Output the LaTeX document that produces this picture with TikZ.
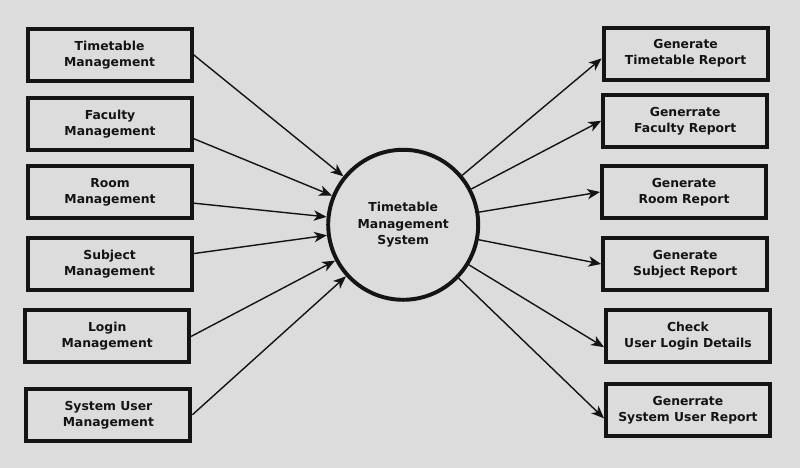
\documentclass[tikz,border=0pt]{standalone}
\usepackage{fontspec}
\setmainfont{DejaVu Sans}
\usetikzlibrary{arrows.meta}
\definecolor{paper}{RGB}{220,220,220}
\definecolor{ink}{RGB}{20,20,20}
\tikzset{
  box/.style={draw=ink, line width=2.8pt, fill=paper, text=ink, align=center,
    minimum width=4.1cm, minimum height=1.3cm, inner sep=2pt,
    font=\bfseries\fontsize{8.8}{11.4}\selectfont},
  proc/.style={draw=ink, line width=2.8pt, circle, minimum size=3.75cm, align=center,
    text=ink, font=\bfseries\fontsize{8.8}{11.8}\selectfont},
  flow/.style={draw=ink, line width=1pt, -{Stealth[length=3.2mm,width=2.6mm,inset=0.9mm]}}
}
\begin{document}
\begin{tikzpicture}
        \fill[paper] (0,0) rectangle (20,11.7);
        \useasboundingbox (0,0) rectangle (20,11.7);
        % central process
        \node[proc] at (10.08,6.08) (sys) {Timetable\\Management\\System};
        % inputs
        \node[box] at (2.74,10.33) (ttm) {Timetable\\Management};
        \node[box] at (2.75,8.60)  (fac) {Faculty\\Management};
        \node[box] at (2.75,6.89)  (room) {Room\\Management};
        \node[box] at (2.74,5.09)  (subj) {Subject\\Management};
        \node[box] at (2.68,3.29)  (login) {Login\\Management};
        \node[box] at (2.71,1.33)  (user) {System User\\Management};
        % outputs
        \node[box] at (17.14,10.36) (rtt) {Generate\\Timetable Report};
        \node[box] at (17.13,8.68)  (rfac) {Generrate\\Faculty Report};
        \node[box] at (17.10,6.90)  (rroom) {Generate\\Room Report};
        \node[box] at (17.13,5.10)  (rsubj) {Generate\\Subject Report};
        \node[box] at (17.20,3.29)  (rlogin) {Check\\User Login Details};
        \node[box] at (17.20,1.44)  (ruser) {Generrate\\System User Report};
        % arrows in
        \draw[flow] (ttm.east) -- (sys);
        \draw[flow] ([yshift=-0.37cm]fac.east) -- (sys);
        \draw[flow] ([yshift=-0.27cm]room.east) -- (sys);
        \draw[flow] ([yshift=0.27cm]subj.east) -- (sys);
        \draw[flow] (login.east) -- (sys);
        \draw[flow] (user.east) -- (sys);
        % arrows out
        \draw[flow] (sys) -- ([yshift=-0.12cm]rtt.west);
        \draw[flow] (sys) -- (rfac.west);
        \draw[flow] (sys) -- (rroom.west);
        \draw[flow] (sys) -- (rsubj.west);
        \draw[flow] (sys) -- ([yshift=-0.27cm]rlogin.west);
        \draw[flow] (sys) -- ([yshift=-0.2cm]ruser.west);
\end{tikzpicture}
\end{document}
